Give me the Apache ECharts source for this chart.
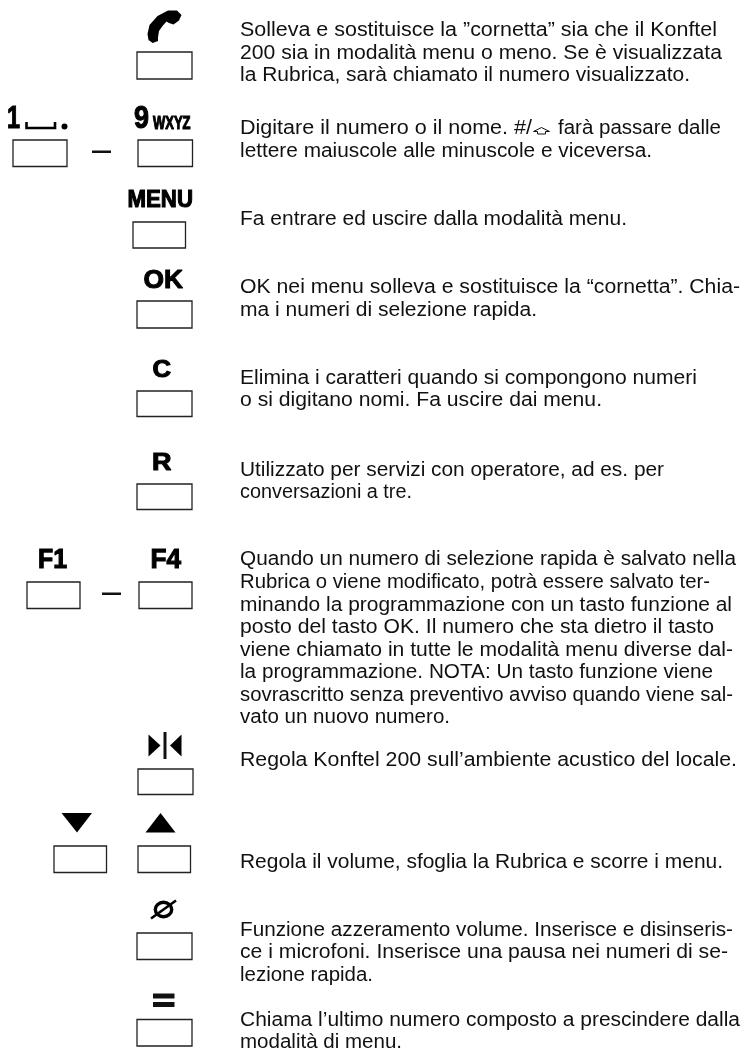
<!DOCTYPE html>
<html>
<head>
<meta charset="utf-8">
<style>
  html, body { margin: 0; padding: 0; background: #fff; }
  #main { width: 744px; height: 1050px; }
</style>
<script src="https://cdn.jsdelivr.net/npm/echarts@6/dist/echarts.min.js"></script>
</head>
<body>
<div id="main"></div>
<script>
const bodyText = [
  'Solleva e sostituisce la ”cornetta” sia che il Konftel',
  '200 sia in modalità menu o meno. Se è visualizzata',
  'la Rubrica, sarà chiamato il numero visualizzato.',
  'Digitare il numero o il nome. #/',
  'farà passare dalle',
  'lettere maiuscole alle minuscole e viceversa.',
  'Fa entrare ed uscire dalla modalità menu.',
  'OK nei menu solleva e sostituisce la “cornetta”. Chia-',
  'ma i numeri di selezione rapida.',
  'Elimina i caratteri quando si compongono numeri',
  'o si digitano nomi. Fa uscire dai menu.',
  'Utilizzato per servizi con operatore, ad es. per',
  'conversazioni a tre.',
  'Quando un numero di selezione rapida è salvato nella',
  'Rubrica o viene modificato, potrà essere salvato ter-',
  'minando la programmazione con un tasto funzione al',
  'posto del tasto OK. Il numero che sta dietro il tasto',
  'viene chiamato in tutte le modalità menu diverse dal-',
  'la programmazione. NOTA: Un tasto funzione viene',
  'sovrascritto senza preventivo avviso quando viene sal-',
  'vato un nuovo numero.',
  'Regola Konftel 200 sull’ambiente acustico del locale.',
  'Regola il volume, sfoglia la Rubrica e scorre i menu.',
  'Funzione azzeramento volume. Inserisce e disinseris-',
  'ce i microfoni. Inserisce una pausa nei numeri di se-',
  'lezione rapida.',
  'Chiama l’ultimo numero composto a prescindere dalla',
  'modalità di menu.'
]
const bodyLeft = [240, 240, 240, 240, 558, 240, 240, 240, 240, 240, 240, 240, 240, 240, 240, 240, 240, 240, 240, 240, 240, 240, 240, 240, 240, 240, 240, 240]
const bodyRight = [717, 722, 690, 532, 721, 652, 627, 740, 537, 697, 602, 664, 412, 736, 710, 732, 714, 733, 713, 733, 450, 737, 723, 733, 728, 373, 740, 402]
const bodyBaseline = [36, 59, 81, 134, 134, 157, 225, 293, 316, 384, 406, 476, 498, 565, 588, 611, 633, 656, 678, 701, 723, 766, 868, 936, 958, 981, 1026, 1048]

const keyLeft = [137, 13, 138, 133, 137, 137, 137, 27, 139, 138, 54, 138, 137, 137]
const keyRight = [192, 67, 192.5, 185.5, 192, 192, 192, 80, 192, 193, 106.5, 190.5, 192, 192]
const keyTop = [52, 140, 140, 222, 301, 391, 484, 582, 582, 769, 846, 846, 933, 1019.5]
const keyBottom = [79, 166.5, 166.5, 248, 328, 416.5, 509.5, 608.5, 608.5, 794.5, 872.5, 872.5, 959.5, 1046]

const labelText = ['1', '9', 'WXYZ', 'MENU', 'OK', 'C', 'R', 'F1', 'F4']
const labelLeft = [7, 134, 153, 127.5, 143.5, 152.5, 152, 38, 150.5]
const labelRight = [20, 149, 190.5, 193, 183, 171, 171.5, 67, 181]
const labelTop = [107, 107, 117, 191.5, 271, 361.5, 454, 550, 550]
const labelBaseline = [129, 129, 129, 208, 289, 378, 471, 569, 569]

const handset = [[147.5, 34], [149.5, 25], [157.5, 16], [168, 10.5], [177, 10.5], [181.5, 15], [179, 20.5], [173.5, 24.5], [169, 23], [166.5, 21.5], [162.5, 26], [159, 31], [158, 37.5], [158, 41], [152.7, 43], [148.5, 40]]
const leftTriangle = [[148.5, 734.5], [160.5, 745.5], [148.5, 756.5]]
const rightTriangle = [[181.5, 734.5], [170, 745.5], [181.5, 756.5]]
const downTriangle = [[61.5, 813], [92, 813], [77, 832.5]]
const upTriangle = [[145.5, 832.5], [175.5, 832.5], [160.5, 813]]
const shiftArrow = [[541.5, 127.5], [549.5, 131.5], [545.5, 131.5], [545.5, 134], [537.5, 134], [537.5, 131.5], [533.5, 131.5]]
const filledShapes = [handset, leftTriangle, rightTriangle, downTriangle, upTriangle]

// dashes, the bar between the triangles and the two strokes of the = key
const barLeft = [92, 102, 163.5, 153, 153]
const barRight = [111, 121, 166.5, 174.5, 174.5]
const barTop = [150.5, 592.5, 732, 993.5, 1002]
const barBottom = [153, 595, 759, 998.5, 1007]

const spaceBracket = [[26.5, 122], [26.5, 128], [55, 128], [55, 122]]
const muteSlash = [[151, 918.5], [176, 900.5]]
const strokeLines = [spaceBracket, muteSlash]

const INK = '#111'
const BODY_FONT = 'Liberation Sans'
const BODY_SIZE = 19.5

const measureCtx = document.createElement('canvas').getContext('2d')
const textWidth = (text, font) => {
  measureCtx.font = font
  return measureCtx.measureText(text).width
}

const rectItem = (api, style) => {
  const a = api.coord([api.value(0), api.value(2)])
  const b = api.coord([api.value(1), api.value(3)])
  return {
    type: 'rect',
    shape: { x: a[0], y: a[1], width: b[0] - a[0], height: b[1] - a[1] },
    style
  }
}

const chart = echarts.init(document.getElementById('main'), null, { renderer: 'canvas' })

const option = {
  animation: false,
  backgroundColor: '#fff',
  grid: { left: 0, right: 0, top: 0, bottom: 0 },
  xAxis: { type: 'value', min: 0, max: 744, show: false },
  yAxis: { type: 'value', min: 0, max: 1050, inverse: true, show: false },
  series: [
    {
      name: 'keys',
      type: 'custom',
      silent: true,
      clip: false,
      data: keyLeft.map((v, i) => [v, keyRight[i], keyTop[i], keyBottom[i]]),
      renderItem: (params, api) => rectItem(api, { fill: '#fff', stroke: '#222', lineWidth: 1.3 })
    },
    {
      name: 'bars',
      type: 'custom',
      silent: true,
      clip: false,
      data: barLeft.map((v, i) => [v, barRight[i], barTop[i], barBottom[i]]),
      renderItem: (params, api) => rectItem(api, { fill: INK })
    },
    {
      name: 'icons',
      type: 'custom',
      silent: true,
      clip: false,
      data: filledShapes.map((s, i) => [i]),
      renderItem: (params, api) => ({
        type: 'polygon',
        shape: { points: filledShapes[params.dataIndex].map(p => api.coord(p)) },
        style: { fill: '#000' }
      })
    },
    {
      name: 'strokes',
      type: 'custom',
      silent: true,
      clip: false,
      data: strokeLines.map((s, i) => [i]),
      renderItem: (params, api) => ({
        type: 'polyline',
        shape: { points: strokeLines[params.dataIndex].map(p => api.coord(p)) },
        style: { fill: 'none', stroke: '#000', lineWidth: 2.6 }
      })
    },
    {
      name: 'muteRing',
      type: 'custom',
      silent: true,
      clip: false,
      data: [[163.5, 909.5]],
      renderItem: (params, api) => {
        const c = api.coord([api.value(0), api.value(1)])
        return {
          type: 'ellipse',
          shape: { cx: c[0], cy: c[1], rx: 8.2, ry: 7.2 },
          style: { fill: 'none', stroke: '#000', lineWidth: 3.4 }
        }
      }
    },
    {
      name: 'spaceDot',
      type: 'custom',
      silent: true,
      clip: false,
      data: [[64.5, 126.5]],
      renderItem: (params, api) => {
        const c = api.coord([api.value(0), api.value(1)])
        return {
          type: 'circle',
          shape: { cx: c[0], cy: c[1], r: 3 },
          style: { fill: '#000' }
        }
      }
    },
    {
      name: 'shiftArrow',
      type: 'custom',
      silent: true,
      clip: false,
      data: [[0]],
      renderItem: (params, api) => ({
        type: 'polygon',
        shape: { points: shiftArrow.map(p => api.coord(p)) },
        style: { fill: '#fff', stroke: INK, lineWidth: 1 }
      })
    },
    {
      name: 'keyLabels',
      type: 'custom',
      silent: true,
      clip: false,
      data: labelLeft.map((v, i) => [v, labelRight[i], labelTop[i], labelBaseline[i]]),
      renderItem: (params, api) => {
        const text = labelText[params.dataIndex]
        const left = api.coord([api.value(0), api.value(3)])
        const right = api.coord([api.value(1), api.value(2)])
        const size = (left[1] - right[1]) / 0.688
        const width = textWidth(text, `bold ${size}px "Liberation Sans"`)
        return {
          type: 'text',
          x: left[0],
          y: left[1] - size * 0.3,
          scaleX: (right[0] - left[0]) / width,
          style: {
            text,
            fill: '#000',
            stroke: '#000',
            lineWidth: 1.1,
            fontFamily: 'Liberation Sans',
            fontWeight: 'bold',
            fontSize: size,
            align: 'left',
            verticalAlign: 'middle'
          }
        }
      }
    },
    {
      name: 'bodyText',
      type: 'custom',
      silent: true,
      clip: false,
      data: bodyLeft.map((v, i) => [v, bodyRight[i], bodyBaseline[i]]),
      renderItem: (params, api) => {
        const text = bodyText[params.dataIndex]
        const left = api.coord([api.value(0), api.value(2)])
        const right = api.coord([api.value(1), api.value(2)])
        const width = textWidth(text, `${BODY_SIZE}px "${BODY_FONT}"`)
        return {
          type: 'text',
          x: left[0],
          y: left[1] - BODY_SIZE * 0.3,
          scaleX: (right[0] - left[0]) / width,
          style: {
            text,
            fill: INK,
            fontFamily: BODY_FONT,
            fontSize: BODY_SIZE,
            align: 'left',
            verticalAlign: 'middle'
          }
        }
      }
    }
  ]
}

chart.setOption(option)
</script>
</body>
</html>
